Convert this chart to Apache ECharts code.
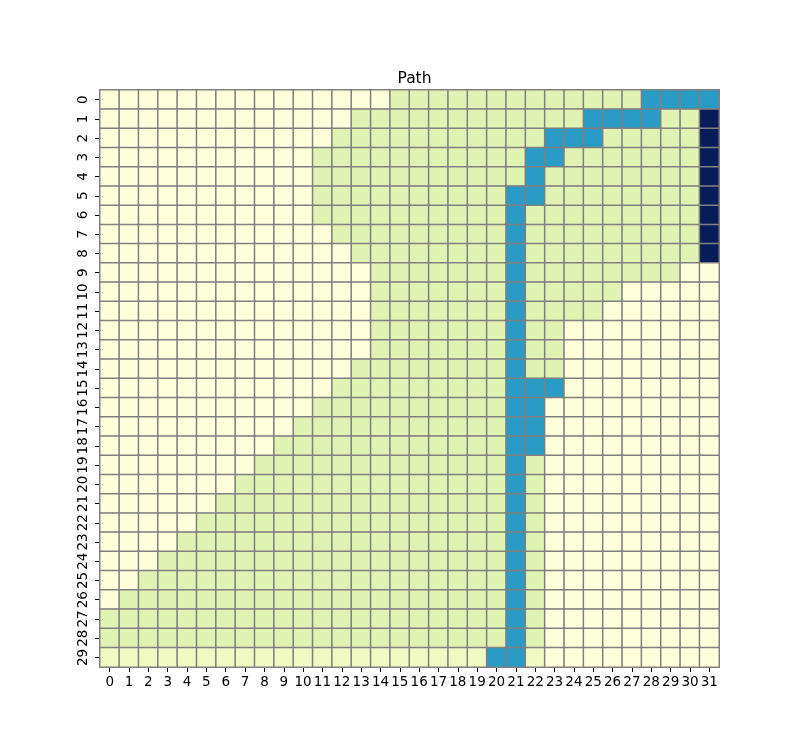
<!DOCTYPE html>
<html>
<head>
<meta charset="utf-8">
<script src="https://cdn.jsdelivr.net/npm/echarts@6/dist/echarts.min.js"></script>
<style>html,body{margin:0;padding:0;background:#fff;}#c{width:800px;height:750px;}</style>
</head>
<body>
<div id="c"></div>
<script>
// Category labels
var xLabels = ["0","1","2","3","4","5","6","7","8","9","10","11","12","13","14","15","16","17","18","19","20","21","22","23","24","25","26","27","28","29","30","31"];
var yLabels = ["0","1","2","3","4","5","6","7","8","9","10","11","12","13","14","15","16","17","18","19","20","21","22","23","24","25","26","27","28","29"];

// Cell values per row (32 columns, grouped by 8; spaces are ignored)
// 0 = unvisited, 1 = explored, 2 = last row shade, 3 = path, 4 = end column
var rows = [
  "00000000 00000001 11111111 11113333",
  "00000000 00000111 11111111 13333114",
  "00000000 00001111 11111113 33111114",
  "00000000 00011111 11111133 11111114",
  "00000000 00011111 11111131 11111114",
  "00000000 00011111 11111331 11111114",
  "00000000 00011111 11111311 11111114",
  "00000000 00001111 11111311 11111114",
  "00000000 00000111 11111311 11111114",
  "00000000 00000011 11111311 11111100",
  "00000000 00000011 11111311 11100000",
  "00000000 00000011 11111311 11000000",
  "00000000 00000011 11111311 00000000",
  "00000000 00000011 11111311 00000000",
  "00000000 00000111 11111311 00000000",
  "00000000 00001111 11111333 00000000",
  "00000000 00011111 11111330 00000000",
  "00000000 00111111 11111330 00000000",
  "00000000 01111111 11111330 00000000",
  "00000000 11111111 11111310 00000000",
  "00000001 11111111 11111310 00000000",
  "00000011 11111111 11111310 00000000",
  "00000111 11111111 11111310 00000000",
  "00001111 11111111 11111310 00000000",
  "00011111 11111111 11111310 00000000",
  "00111111 11111111 11111310 00000000",
  "01111111 11111111 11111310 00000000",
  "11111111 11111111 11111310 00000000",
  "11111111 11111111 11111310 00000000",
  "22222222 22222222 22223320 00000000"
];

var valueColors = ["#ffffd9", "#e0f3b2", "#f1f9c3", "#2a9bc5", "#081d58"];

var data = [];
rows.forEach(function (r, y) {
  var s = r.replace(/\s+/g, "");
  for (var x = 0; x < s.length; x++) {
    data.push([x, y, parseInt(s[x], 10)]);
  }
});

var chart = echarts.init(document.getElementById('c'), null, {renderer: 'canvas'});
var font = "DejaVu Sans";
chart.setOption({
  animation: false,
  backgroundColor: '#ffffff',
  title: {
    text: 'Path',
    left: 409.5,
    textAlign: 'center',
    top: 66,
    textStyle: {fontFamily: font, fontSize: 15.5, fontWeight: 'normal', color: '#000'}
  },
  grid: {left: 100, top: 90, width: 619, height: 577, containLabel: false},
  xAxis: {
    type: 'category',
    data: xLabels,
    position: 'bottom',
    axisLine: {show: false},
    axisTick: {show: true, alignWithLabel: true, length: 5, lineStyle: {color: '#000', width: 1}},
    axisLabel: {interval: 0, fontFamily: font, fontSize: 13.5, color: '#000', margin: 8, hideOverlap: false},
    splitLine: {show: false},
    splitArea: {show: false}
  },
  yAxis: {
    type: 'category',
    data: yLabels,
    inverse: true,
    axisLine: {show: false},
    axisTick: {show: true, alignWithLabel: true, length: 5, lineStyle: {color: '#000', width: 1}},
    axisLabel: {interval: 0, rotate: 90, fontFamily: font, fontSize: 13.5, color: '#000', margin: 10, hideOverlap: false},
    splitLine: {show: false},
    splitArea: {show: false}
  },
  visualMap: {
    show: false,
    type: 'piecewise',
    dimension: 2,
    pieces: valueColors.map(function (c, i) { return {value: i, color: c}; })
  },
  series: [{
    type: 'heatmap',
    data: data,
    itemStyle: {borderColor: '#808080', borderWidth: 1.5},
    emphasis: {disabled: true}
  }]
});
</script>
</body>
</html>
